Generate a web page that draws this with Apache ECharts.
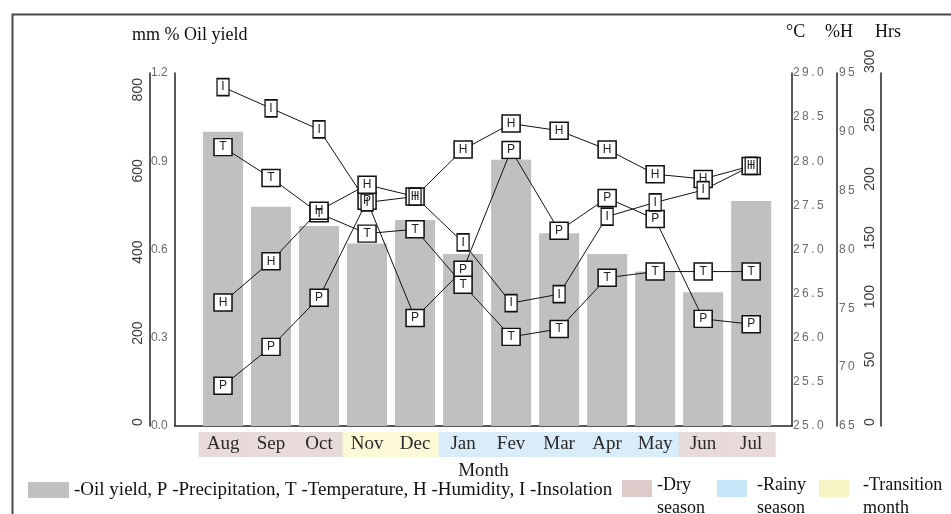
<!DOCTYPE html>
<html>
<head>
<meta charset="utf-8">
<script src="https://cdn.jsdelivr.net/npm/echarts@6/dist/echarts.min.js"></script>
<style>
  html, body { margin: 0; padding: 0; background: #fff; }
  #chart { width: 951px; height: 514px; }
</style>
</head>
<body>
<div id="chart"></div>
<script>
// ---- data ----
const months = ['Aug', 'Sep', 'Oct', 'Nov', 'Dec', 'Jan', 'Fev', 'Mar', 'Apr', 'May', 'Jun', 'Jul'];
const seasons = ['dry', 'dry', 'dry', 'trans', 'trans', 'rainy', 'rainy', 'rainy', 'rainy', 'rainy', 'dry', 'dry'];
const oilYield = [1.00, 0.745, 0.68, 0.62, 0.70, 0.585, 0.905, 0.655, 0.585, 0.525, 0.455, 0.765];      // %
const precipitation = [99, 195, 316, 555, 266, 385, 680, 481, 562, 510, 264, 251];                      // mm
const temperature = [28.16, 27.81, 27.41, 27.18, 27.23, 26.60, 26.01, 26.10, 26.68, 26.75, 26.75, 26.75]; // °C
const humidity = [75.5, 79.0, 83.3, 85.5, 84.5, 88.5, 90.7, 90.1, 88.5, 86.4, 86.0, 87.1];                // %H
const insolation = [288, 270, 252, 190, 195, 156, 104.5, 112, 178, 190, 200.5, 221];                      // Hrs

const serif = '"Times New Roman", "Liberation Serif", serif';
const sans = 'Arial, "Liberation Sans", sans-serif';
const seasonColors = { dry: '#e7dad8', trans: '#fcfad6', rainy: '#d8edf9' };
const swatchColors = { dry: '#dccbc9', rainy: '#c7e6f7', trans: '#f6f4c4' };

const chart = echarts.init(document.getElementById('chart'), null, { renderer: 'canvas' });

function pairs(arr) { return arr.map((v, i) => [i, v]); }
function spaced(s) { return String(s).split('').join('\u2009'); }

const rich = {};
Object.keys(seasonColors).forEach(k => {
  rich[k] = {
    backgroundColor: seasonColors[k], width: 49, height: 25, lineHeight: 25,
    align: 'center', fontFamily: serif, fontSize: 19, color: '#2a2a2a'
  };
});

const axisLineStyle = { show: true, onZero: false, lineStyle: { color: '#222', width: 1.5 } };

function markerSeries(name, data, yAxisIndex, letter, w) {
  return {
    type: 'line', name, data: pairs(data), xAxisIndex: 0, yAxisIndex,
    symbol: 'rect', symbolSize: [w, 17], showAllSymbol: true,
    lineStyle: { color: '#111', width: 1 },
    itemStyle: { color: '#fff', borderColor: '#111', borderWidth: 1.5 },
    label: { show: true, position: 'inside', formatter: letter, color: '#222', fontSize: 12, fontFamily: sans },
    emphasis: { disabled: true }, silent: true
  };
}

const option = {
  animation: false,
  grid: { left: 175, right: 159, top: 73, bottom: 88, containLabel: false },
  xAxis: {
    type: 'value', min: -1, max: 11.85, interval: 1,
    axisLine: { show: true, onZero: false, lineStyle: { color: '#222', width: 1.5 } },
    axisTick: { show: false }, splitLine: { show: false },
    axisLabel: {
      margin: 6, showMaxLabel: false, showMinLabel: false,
      formatter: v => (Number.isInteger(v) && v >= 0 && v < months.length) ? '{' + seasons[v] + '|' + months[v] + '}' : '',
      rich
    },
    name: 'Month', nameLocation: 'middle', nameGap: 35,
    nameTextStyle: { fontFamily: serif, fontSize: 19, color: '#1a1a1a' }
  },
  yAxis: [
    { // Oil yield
      type: 'value', position: 'left', offset: 0, min: 0, max: 1.2, interval: 0.3,
      axisLine: axisLineStyle, axisTick: { show: false }, splitLine: { show: false },
      axisLabel: { align: 'left', margin: 24, color: '#6a6a6a', fontSize: 12, fontFamily: sans,
        formatter: v => v.toFixed(1) }
    },
    { // mm
      type: 'value', position: 'left', offset: 25, min: 0, max: 870, interval: 200,
      axisLine: axisLineStyle, axisTick: { show: false }, splitLine: { show: false },
      axisLabel: { rotate: 90, align: 'left', verticalAlign: 'middle', margin: 12, color: '#3a3a3a',
        fontSize: 14, fontFamily: sans, showMaxLabel: false,
        formatter: v => (v % 200 === 0 ? String(v) : '') }
    },
    { // °C
      type: 'value', position: 'right', offset: 0, min: 25, max: 29, interval: 0.5,
      axisLine: axisLineStyle, axisTick: { show: false }, splitLine: { show: false },
      axisLabel: { margin: 1, color: '#6a6a6a', fontSize: 12, fontFamily: sans,
        formatter: v => spaced(v.toFixed(1)) }
    },
    { // %H
      type: 'value', position: 'right', offset: 45, min: 65, max: 95, interval: 5,
      axisLine: axisLineStyle, axisTick: { show: false }, splitLine: { show: false },
      axisLabel: { margin: 2, color: '#6a6a6a', fontSize: 12, fontFamily: sans,
        formatter: v => spaced(v) }
    },
    { // Hrs
      type: 'value', position: 'right', offset: 89, min: 0, max: 300, interval: 50,
      axisLine: axisLineStyle, axisTick: { show: false }, splitLine: { show: false },
      axisLabel: { inside: true, rotate: 90, align: 'left', verticalAlign: 'middle', margin: 11,
        color: '#3a3a3a', fontSize: 14, fontFamily: sans }
    }
  ],
  series: [
    {
      type: 'bar', name: 'Oil yield', data: pairs(oilYield), xAxisIndex: 0, yAxisIndex: 0,
      barWidth: 40, itemStyle: { color: '#c0c0c0' }, emphasis: { disabled: true }, silent: true
    },
    markerSeries('Precipitation', precipitation, 1, 'P', 18),
    markerSeries('Temperature', temperature, 2, 'T', 18),
    markerSeries('Humidity', humidity, 3, 'H', 18),
    markerSeries('Insolation', insolation, 4, 'I', 12)
  ],
  graphic: [
    { type: 'rect', left: 10, top: 12, z: -10, silent: true,
      shape: { x: 0, y: 0, width: 1000, height: 600 },
      style: { fill: 'none', stroke: '#4a4a4a', lineWidth: 2 } },
    // axis titles
    { type: 'text', x: 132, y: 35, silent: true,
      style: { text: 'mm % Oil yield', font: '18px ' + serif, fill: '#111', verticalAlign: 'middle' } },
    { type: 'text', x: 786, y: 32, silent: true,
      style: { text: '°C', font: '18px ' + serif, fill: '#111', verticalAlign: 'middle' } },
    { type: 'text', x: 825, y: 32, silent: true,
      style: { text: '%H', font: '18px ' + serif, fill: '#111', verticalAlign: 'middle' } },
    { type: 'text', x: 875, y: 32, silent: true,
      style: { text: 'Hrs', font: '18px ' + serif, fill: '#111', verticalAlign: 'middle' } },
    // legend
    { type: 'rect', silent: true, shape: { x: 28, y: 482, width: 41, height: 16 }, style: { fill: '#c0c0c0' } },
    { type: 'text', x: 74, y: 490, silent: true,
      style: { text: '-Oil yield, P -Precipitation, T -Temperature, H -Humidity, I -Insolation',
        font: '19px ' + serif, fill: '#111', verticalAlign: 'middle' } },
    { type: 'rect', silent: true, shape: { x: 622, y: 480, width: 30, height: 17 }, style: { fill: swatchColors.dry } },
    { type: 'text', x: 657, y: 474, silent: true,
      style: { text: '-Dry\nseason', font: '18px ' + serif, lineHeight: 23, fill: '#111', verticalAlign: 'top' } },
    { type: 'rect', silent: true, shape: { x: 717, y: 480, width: 30, height: 17 }, style: { fill: swatchColors.rainy } },
    { type: 'text', x: 757, y: 474, silent: true,
      style: { text: '-Rainy\nseason', font: '18px ' + serif, lineHeight: 23, fill: '#111', verticalAlign: 'top' } },
    { type: 'rect', silent: true, shape: { x: 819, y: 480, width: 30, height: 17 }, style: { fill: swatchColors.trans } },
    { type: 'text', x: 863, y: 474, silent: true,
      style: { text: '-Transition\nmonth', font: '18px ' + serif, lineHeight: 23, fill: '#111', verticalAlign: 'top' } }
  ]
};

chart.setOption(option);
</script>
</body>
</html>
